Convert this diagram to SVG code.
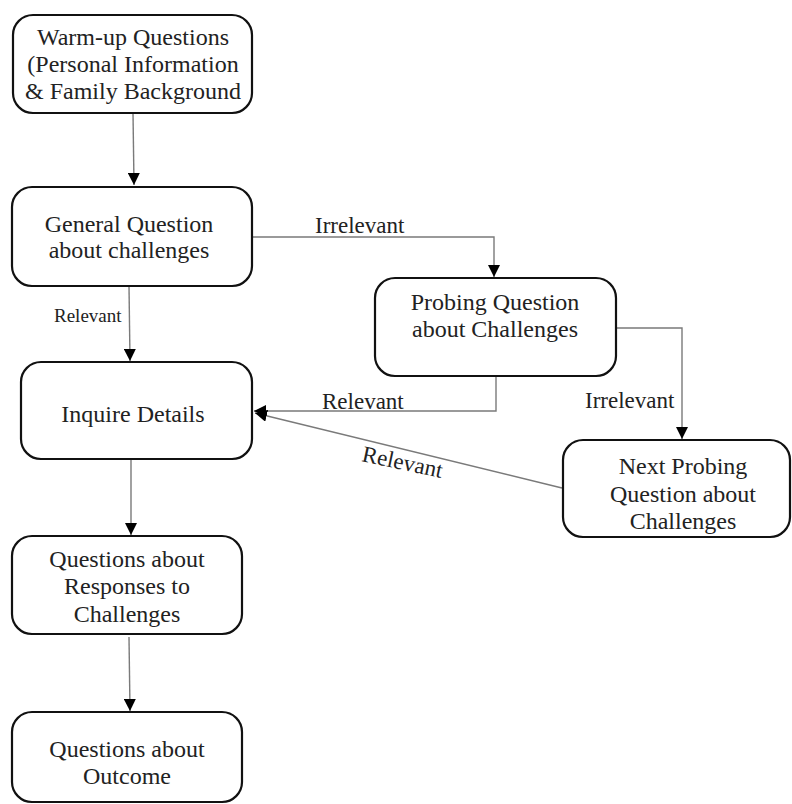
<svg xmlns="http://www.w3.org/2000/svg" width="792" height="804" viewBox="0 0 792 804">
<defs>
<marker id="arr" viewBox="0 0 10 10" refX="10" refY="5" markerWidth="12" markerHeight="12" markerUnits="userSpaceOnUse" orient="auto">
<path d="M0,0 L10,5 L0,10 z" fill="#000"/>
</marker>
<style>
.box{fill:#fff;stroke:#111;stroke-width:2.2}
.t{font-family:"Liberation Serif","Times New Roman",serif;font-size:24px;fill:#222;text-anchor:middle}
.l{font-family:"Liberation Serif","Times New Roman",serif;font-size:23px;fill:#222}
.c{fill:none;stroke:#7a7a7a;stroke-width:1.4}
</style>
</defs>
<rect width="792" height="804" fill="#fff"/>
<g id="connectors">
<path class="c" d="M133,113 L134,185" marker-end="url(#arr)"/>
<path class="c" d="M129,286 L130,361" marker-end="url(#arr)"/>
<path class="c" d="M252,237 L494,237 L494,277" marker-end="url(#arr)"/>
<path class="c" d="M496,376 L496,411 L254,411" marker-end="url(#arr)"/>
<path class="c" d="M616,328 L682,328 L682,439" marker-end="url(#arr)"/>
<path class="c" d="M562,488 L255,413" marker-end="url(#arr)"/>
<path class="c" d="M131,459 L131,535" marker-end="url(#arr)"/>
<path class="c" d="M129,637 L130,711" marker-end="url(#arr)"/>
<text class="l" x="315" y="233">Irrelevant</text>
<text class="l" x="54" y="322" style="font-size:19px">Relevant</text>
<text class="l" x="322" y="409">Relevant</text>
<text class="l" x="585" y="408">Irrelevant</text>
<text class="l" x="361" y="461" transform="rotate(12 361 461)">Relevant</text>
</g>
<g id="warmup">
<rect class="box" x="13" y="15" width="239" height="98" rx="20"/>
<text class="t" x="133" y="45">Warm-up Questions</text>
<text class="t" x="133" y="72">(Personal Information</text>
<text class="t" x="133" y="99">&amp; Family Background</text>
</g>
<g id="general">
<rect class="box" x="12" y="187" width="240" height="99" rx="20"/>
<text class="t" x="129" y="232">General Question</text>
<text class="t" x="129" y="258">about challenges</text>
</g>
<g id="probing">
<rect class="box" x="375" y="278" width="241" height="98" rx="20"/>
<text class="t" x="495" y="310">Probing Question</text>
<text class="t" x="495" y="337">about Challenges</text>
</g>
<g id="inquire">
<rect class="box" x="21" y="362" width="231" height="97" rx="20"/>
<text class="t" x="133" y="422">Inquire Details</text>
</g>
<g id="nextprobing">
<rect class="box" x="563" y="440" width="227" height="97" rx="20"/>
<text class="t" x="683" y="474">Next Probing</text>
<text class="t" x="683" y="502">Question about</text>
<text class="t" x="683" y="529">Challenges</text>
</g>
<g id="responses">
<rect class="box" x="12" y="536" width="230" height="98" rx="20"/>
<text class="t" x="127" y="567">Questions about</text>
<text class="t" x="127" y="594">Responses to</text>
<text class="t" x="127" y="622">Challenges</text>
</g>
<g id="outcome">
<rect class="box" x="12" y="712" width="230" height="90" rx="20"/>
<text class="t" x="127" y="757">Questions about</text>
<text class="t" x="127" y="784">Outcome</text>
</g>
</svg>
